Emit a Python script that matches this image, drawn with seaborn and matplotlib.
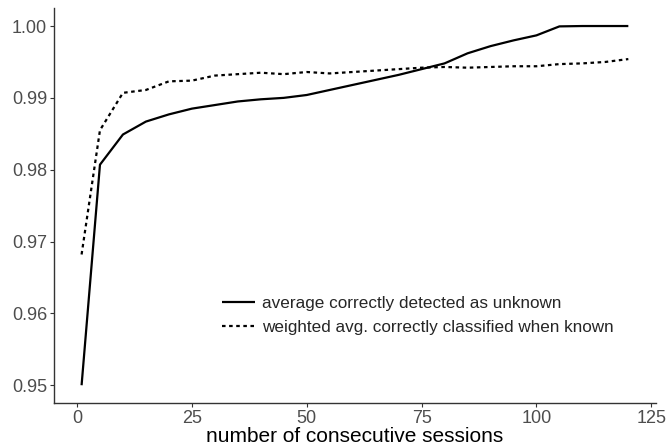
import matplotlib
matplotlib.use("Agg")
import matplotlib.pyplot as plt
import seaborn as sns
import pandas as pd

sessions = [1, 5, 10, 15, 20, 25, 30, 35, 40, 45, 50, 55, 60, 65, 70, 75, 80, 85, 90, 95, 100, 105, 110, 115, 120]
unknown_acc = [0.9500, 0.9807, 0.9849, 0.9867, 0.9877, 0.9885, 0.9890, 0.9895, 0.9898, 0.9900,
               0.9904, 0.9911, 0.9918, 0.9925, 0.9932, 0.9940, 0.9948, 0.9962, 0.9972, 0.9980,
               0.9987, 0.99995, 1.0000, 1.0000, 1.0000]
known_acc = [0.9682, 0.9855, 0.9907, 0.9911, 0.9923, 0.9924, 0.9931, 0.9933, 0.9935, 0.9933,
             0.9936, 0.9934, 0.9936, 0.9938, 0.9940, 0.9942, 0.9943, 0.9942, 0.9943, 0.9944,
             0.9944, 0.9947, 0.9948, 0.9950, 0.9954]
series_names = ["average correctly detected as unknown",
                "weighted avg. correctly classified when known"]
x_ticks = [0, 25, 50, 75, 100, 125]
y_ticks = [0.95, 0.96, 0.97, 0.98, 0.99, 1.00]
x_label = "number of consecutive sessions"

df = pd.concat([
    pd.DataFrame({"sessions": sessions, "value": unknown_acc, "series": series_names[0]}),
    pd.DataFrame({"sessions": sessions, "value": known_acc, "series": series_names[1]}),
])

sns.set_theme(style="white")
plt.rcParams["font.family"] = ["Liberation Sans", "DejaVu Sans"]

fig = plt.figure(figsize=(6.71, 4.48), dpi=100)
ax = fig.add_axes([0.0805, 0.100, 0.897, 0.882])

sns.lineplot(data=df, x="sessions", y="value", style="series", color="black",
             dashes=[(1, 0), (1.6, 1.6)], linewidth=1.6, ax=ax, legend=True)

ax.set_xlim(-5, 126)
ax.set_ylim(0.9475, 1.0025)
ax.set_xticks(x_ticks)
ax.set_yticks(y_ticks)
ax.set_yticklabels([f"{v:.2f}" for v in y_ticks])
ax.set_xlabel(x_label, fontsize=15, color="black", labelpad=0)
ax.set_ylabel("")
ax.tick_params(axis="both", labelsize=13, labelcolor="#4d4d4d", color="#333333",
               length=3, width=0.8, left=True, bottom=True, pad=2)
for side in ["top", "right"]:
    ax.spines[side].set_visible(False)
for side in ["left", "bottom"]:
    ax.spines[side].set_color("#333333")
    ax.spines[side].set_linewidth(1.0)

ax.legend(title=None, frameon=False, fontsize=12.3, loc="center left",
          bbox_to_anchor=(0.279, 0.222), borderaxespad=0, borderpad=0,
          handlelength=1.95, handletextpad=0.4, labelspacing=0.5)

fig.savefig("out.png", dpi=100)
